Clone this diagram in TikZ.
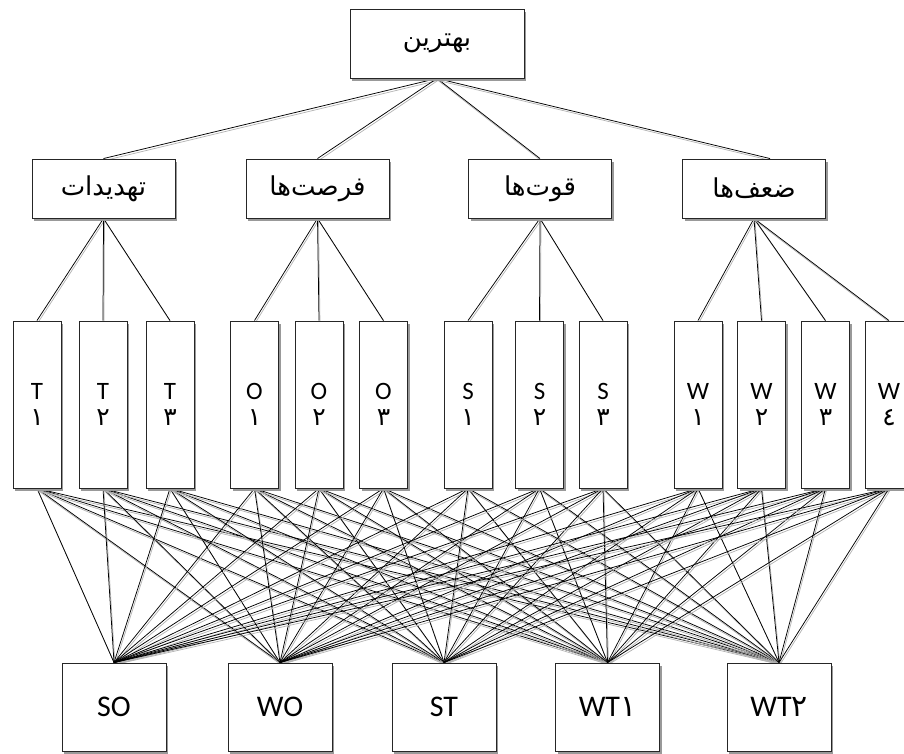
\documentclass[tikz,border=0pt]{standalone}
\usepackage{fontspec}
\setmainfont{Carlito}
\newfontfamily\farsi[Script=Arabic]{DejaVu Sans}
\TeXXeTstate=1
\usepackage{tikz}
\usetikzlibrary{shadows,backgrounds}
\tikzset{box/.style={rectangle,draw=black!85,line width=0.9pt,fill=white,inner sep=0pt,drop shadow={shadow xshift=2pt,shadow yshift=-3pt,fill=black!40,opacity=1}}}
\tikzset{topbox/.style={box,minimum width=174pt,minimum height=69pt,font=\farsi\fontsize{26}{29}\selectfont}}
\tikzset{critbox/.style={box,minimum width=143pt,minimum height=59pt,font=\farsi\fontsize{26}{29}\selectfont}}
\tikzset{factbox/.style={box,minimum width=48pt,minimum height=167pt,align=center,font=\fontsize{25}{26}\selectfont}}
\tikzset{altbox/.style={box,minimum width=104pt,minimum height=88pt,font=\fontsize{30}{32}\selectfont}}
\tikzset{link/.style={line width=0.75pt,preaction={draw=black!30,line width=0.7pt,transform canvas={xshift=1pt,yshift=-2pt}}}}

\begin{document}
\begin{tikzpicture}[x=1pt,y=-1pt]
    \useasboundingbox (0,0) rectangle (904,754);
    \node[topbox] (best) at (437,43.5) {\beginR بهترین\endR};

    \node[critbox] (thr) at (103.5,188.5) {\beginR تهدیدات\endR};
    \node[critbox] (opp) at (317.5,188.5) {\beginR فرصت‌ها\endR};
    \node[critbox] (str) at (540,188.5) {\beginR قوت‌ها\endR};
    \node[critbox] (wea) at (754,188.5) {\beginR ضعف‌ها\endR};

    \node[factbox] (t1) at (37,404.5) {T\\{\farsi ١}};
    \node[factbox] (t2) at (103,404.5) {T\\{\farsi ٢}};
    \node[factbox] (t3) at (170,404.5) {T\\{\farsi ٣}};
    \node[factbox] (o1) at (254.5,404.5) {O\\{\farsi ١}};
    \node[factbox] (o2) at (319,404.5) {O\\{\farsi ٢}};
    \node[factbox] (o3) at (383.5,404.5) {O\\{\farsi ٣}};
    \node[factbox] (s1) at (468,404.5) {S\\{\farsi ١}};
    \node[factbox] (s2) at (539.5,404.5) {S\\{\farsi ٢}};
    \node[factbox] (s3) at (603,404.5) {S\\{\farsi ٣}};
    \node[factbox] (w1) at (698,404.5) {W\\{\farsi ١}};
    \node[factbox] (w2) at (761.5,404.5) {W\\{\farsi ٢}};
    \node[factbox] (w3) at (825.5,404.5) {W\\{\farsi ٣}};
    \node[factbox] (w4) at (889,404.5) {W\\{\farsi ٤}};

    \node[altbox] (so) at (114,707) {SO};
    \node[altbox] (wo) at (280,707) {WO};
    \node[altbox] (st) at (444,707) {ST};
    \node[altbox] (wt1) at (607.5,707) {WT{\farsi ١}};
    \node[altbox] (wt2) at (779,707) {WT{\farsi ٢}};

    \begin{scope}[on background layer]
    \draw [link] (best.south) to [] (thr.north);
    \draw [link] (best.south) to [] (opp.north);
    \draw [link] (best.south) to [] (str.north);
    \draw [link] (best.south) to [] ([xshift=16pt]wea.north);
    \draw [link] (thr.south) to [] (t1.north);
    \draw [link] (thr.south) to [] (t2.north);
    \draw [link] (thr.south) to [] (t3.north);
    \draw [link] (opp.south) to [] (o1.north);
    \draw [link] (opp.south) to [] (o2.north);
    \draw [link] (opp.south) to [] (o3.north);
    \draw [link] (str.south) to [] (s1.north);
    \draw [link] (str.south) to [] (s2.north);
    \draw [link] (str.south) to [] (s3.north);
    \draw [link] (wea.south) to [] (w1.north);
    \draw [link] (wea.south) to [] (w2.north);
    \draw [link] (wea.south) to [] (w3.north);
    \draw [link] (wea.south) to [] (w4.north);
    % every factor to every strategy
    \foreach \f in {t1,t2,t3,o1,o2,o3,s1,s2,s3,w1,w2,w3,w4}
        \foreach \a in {so,wo,st,wt1,wt2}
            \draw [link] (\f.south) to [] (\a.north);
    \end{scope}
\end{tikzpicture}
\end{document}
